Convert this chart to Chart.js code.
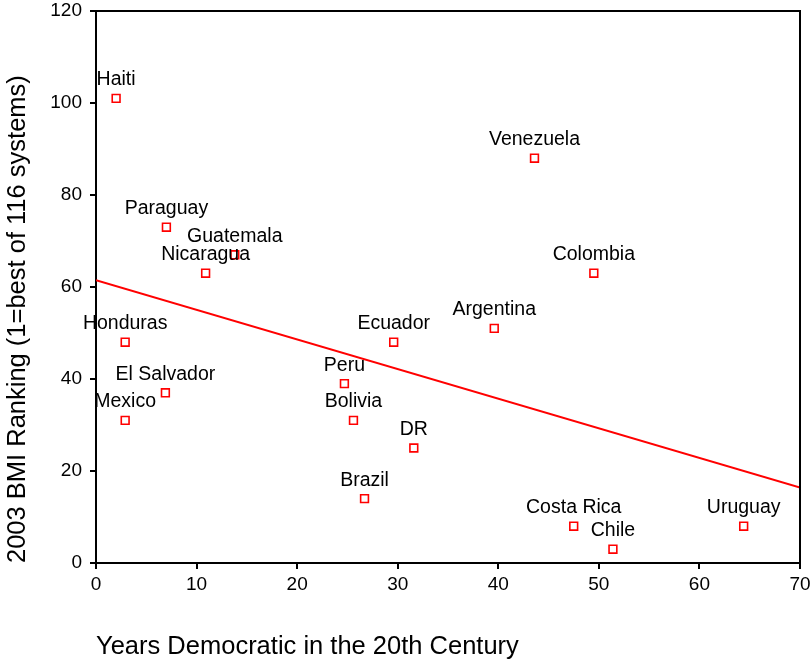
<!DOCTYPE html>
<html>
<head>
<meta charset="utf-8">
<script src="https://cdn.jsdelivr.net/npm/chart.js@4"></script>
<style>
  html, body { margin: 0; padding: 0; background: #fff; }
  #wrap { width: 812px; height: 662px; }
</style>
</head>
<body>
<div id="wrap"><canvas id="bmiChart"></canvas></div>
<script>
const countries = ['Haiti','Paraguay','Guatemala','Nicaragua','Honduras','El Salvador','Mexico',
    'Peru','Bolivia','Brazil','Ecuador','DR','Argentina','Venezuela','Colombia','Costa Rica','Chile','Uruguay'];
const yearsDemocratic = [2, 7, 13.8, 10.9, 2.9, 6.9, 2.9, 24.7, 25.6, 26.7, 29.6, 31.6, 39.6, 43.6, 49.5, 47.5, 51.4, 64.4];
const bmiRanking = [101, 73, 67, 63, 48, 37, 31, 39, 31, 14, 48, 25, 51, 88, 63, 8, 3, 8];
const fitX = [0, 70];
const fitY = [61.5, 16.4];
const xTicks = [0, 10, 20, 30, 40, 50, 60, 70];
const yTicks = [0, 20, 40, 60, 80, 100, 120];

const FONT = '"Liberation Sans", Arial, Helvetica, sans-serif';

const boxPlugin = {
    id: 'box',
    afterDraw(chart) {
        const { ctx, chartArea: a } = chart;
        ctx.save();
        ctx.strokeStyle = '#000';
        ctx.lineWidth = 2;
        ctx.beginPath();
        ctx.moveTo(a.left, a.top);
        ctx.lineTo(a.right, a.top);
        ctx.lineTo(a.right, a.bottom);
        ctx.stroke();
        ctx.restore();
    }
};

const labelPlugin = {
    id: 'pointLabels',
    afterDatasetsDraw(chart) {
        const { ctx } = chart;
        const meta = chart.getDatasetMeta(0);
        ctx.save();
        ctx.font = '19.5px ' + FONT;
        ctx.fillStyle = '#000';
        ctx.textAlign = 'center';
        ctx.textBaseline = 'alphabetic';
        meta.data.forEach((pt, i) => {
            ctx.fillText(countries[i], pt.x, pt.y - 13);
        });
        ctx.restore();
    }
};

new Chart(document.getElementById('bmiChart'), {
    type: 'scatter',
    data: {
        datasets: [{
            label: 'BMI',
            data: yearsDemocratic.map((x, i) => ({ x: x, y: bmiRanking[i] })),
            pointStyle: 'rect',
            pointRadius: 5.5,
            pointHoverRadius: 5.5,
            pointBorderWidth: 1.6,
            pointBorderColor: '#ff0000',
            pointBackgroundColor: '#fff',
            showLine: false
        }, {
            type: 'line',
            label: 'Fit',
            data: fitX.map((x, i) => ({ x: x, y: fitY[i] })),
            borderColor: '#ff0000',
            borderWidth: 2,
            pointRadius: 0,
            fill: false
        }]
    },
    options: {
        responsive: true,
        maintainAspectRatio: false,
        animation: false,
        layout: { padding: { top: 11, right: 12, left: 0, bottom: 0 } },
        plugins: { legend: { display: false }, tooltip: { enabled: false } },
        scales: {
            x: {
                type: 'linear',
                min: 0, max: 70,
                afterBuildTicks(s) { s.ticks = xTicks.map(v => ({ value: v })); },
                afterFit(s) { s.height = 99; s.paddingLeft = 0; s.paddingRight = 0; },
                border: { color: '#000', width: 2 },
                grid: { drawOnChartArea: false, drawTicks: true, tickLength: 6, color: '#000', lineWidth: 2 },
                ticks: { color: '#000', font: { family: FONT, size: 19 }, padding: 4, maxRotation: 0 },
                title: {
                    display: true,
                    text: 'Years Democratic in the 20th Century',
                    align: 'start',
                    color: '#000',
                    font: { family: FONT, size: 25.5 },
                    padding: { top: 0, bottom: 0 }
                }
            },
            y: {
                min: 0, max: 120,
                afterBuildTicks(s) { s.ticks = yTicks.map(v => ({ value: v })); },
                afterFit(s) { s.width = 96; s.paddingTop = 0; s.paddingBottom = 0; },
                border: { color: '#000', width: 2 },
                grid: { drawOnChartArea: false, drawTicks: true, tickLength: 6, color: '#000', lineWidth: 2 },
                ticks: { color: '#000', font: { family: FONT, size: 19 }, padding: 8 },
                title: {
                    display: true,
                    text: '2003 BMI Ranking (1=best of 116 systems)',
                    align: 'start',
                    color: '#000',
                    font: { family: FONT, size: 25.5 },
                    padding: { top: 3, bottom: 0 }
                }
            }
        }
    },
    plugins: [boxPlugin, labelPlugin]
});
</script>
</body>
</html>
